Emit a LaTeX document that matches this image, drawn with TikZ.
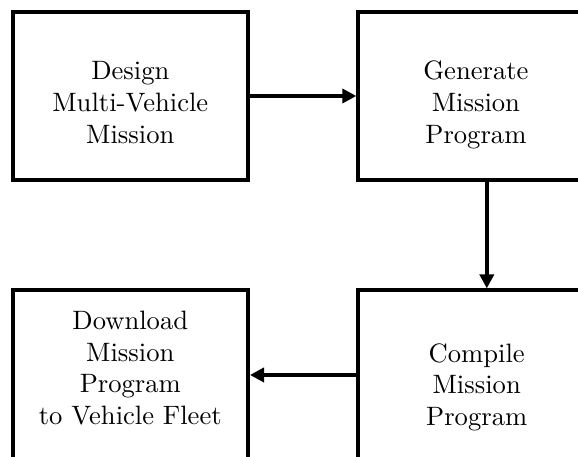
\documentclass[tikz,border=0pt]{standalone}
\usetikzlibrary{positioning,arrows.meta}

\tikzset{
  stagebox/.style={draw, line width=1.5pt, rectangle, inner sep=0pt},
  stagetext/.style={align=center, inner sep=0pt},
  flow/.style={line width=1.5pt, -{Triangle[length=5.3pt,width=5.3pt]}}
}

\begin{document}
\begin{tikzpicture}[x=0.376pt, y=-0.376pt]

\useasboundingbox (0,0) rectangle (578,457);
\clip (0,0) rectangle (578,457);

% ======================================
% TOP ROW: DESIGN AND GENERATE
% ======================================
\node[stagebox, minimum width=88.5pt, minimum height=63.2pt] (design) at (130.3,96) {};
\node[stagebox, minimum width=96.6pt, minimum height=63.2pt, right=40pt of design] (generate) {};

\node[stagetext] (designtxt) at ([yshift=-2.5pt]design.center) {Design\\Multi-Vehicle\\Mission};
\node[stagetext] (generatetxt) at ([xshift=-4.1pt, yshift=-3.4pt]generate.center) {Generate\\Mission\\Program};

\draw[flow] (design.east) -- (generate.west);

% ======================================
% BOTTOM ROW: COMPILE AND DOWNLOAD
% ======================================
\node[stagebox, minimum width=96.6pt, minimum height=66.2pt, below=40pt of generate] (compile) {};
\node[stagebox, minimum width=88.5pt, minimum height=66.2pt, left=40pt of compile] (download) {};

\node[stagetext] (compiletxt) at ([xshift=-3.8pt, yshift=-3.35pt]compile.center) {Compile\\Mission\\Program};
\node[stagetext] (downloadtxt) at ([yshift=3.9pt]download.center) {Download\\Mission\\Program\\to Vehicle Fleet};

\draw[flow] (generate.south) -- (compile.north);
\draw[flow] ([yshift=1.3pt]compile.west) -- ([yshift=1.3pt]download.east);

\end{tikzpicture}
\end{document}
